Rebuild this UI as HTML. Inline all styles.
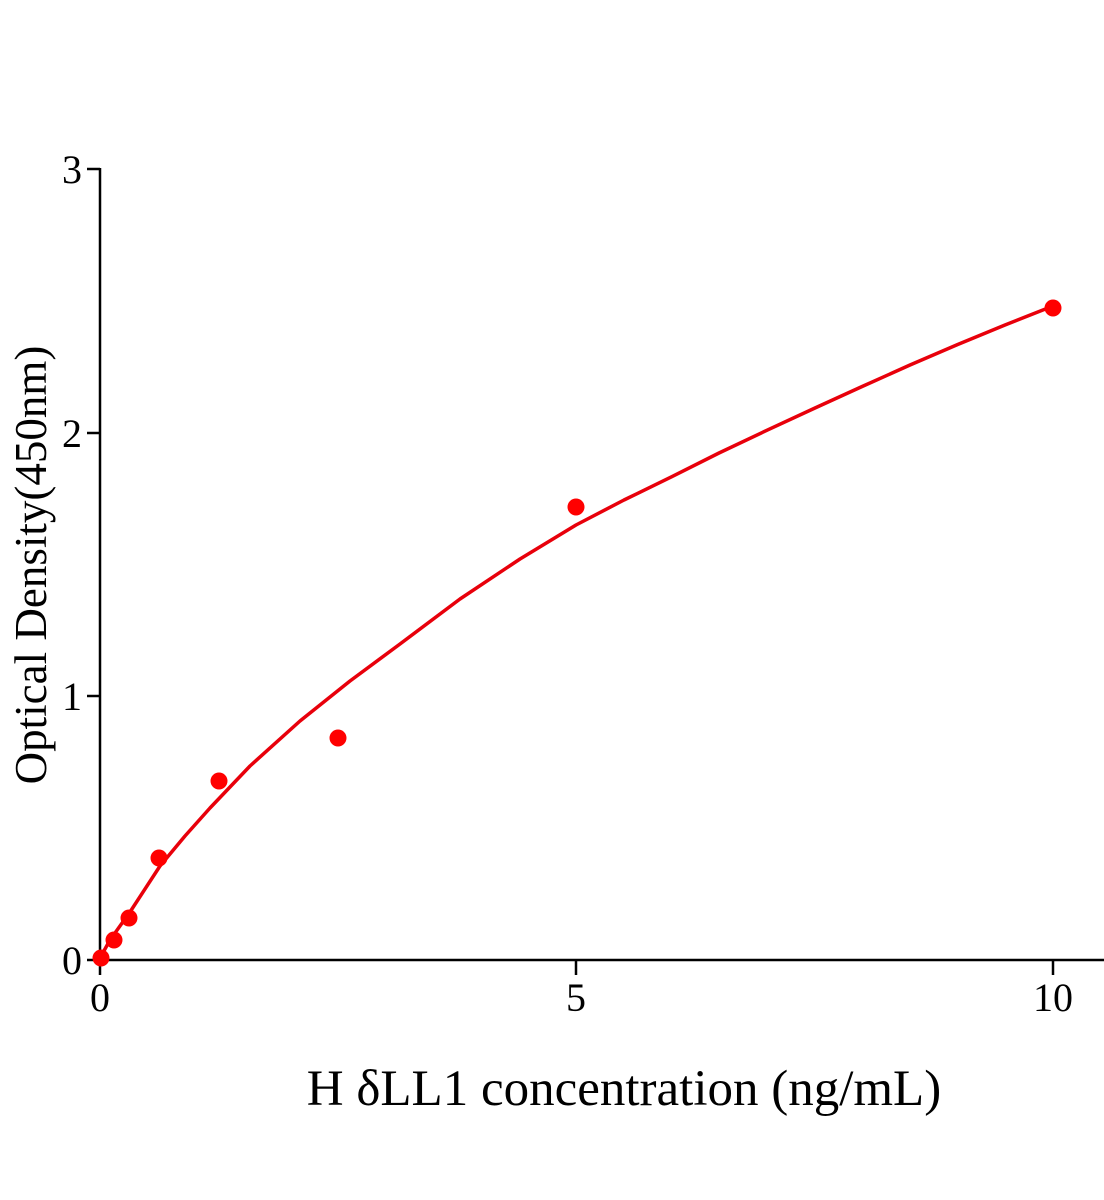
<!DOCTYPE html>
<html><head><style>
html,body{margin:0;padding:0;background:#fff;}
svg{display:block;font-family:"Liberation Serif",serif;}
</style></head><body>
<svg width="1104" height="1200" viewBox="0 0 1104 1200">
<g stroke="#000" stroke-width="2.5" fill="none">
<line x1="100" y1="168" x2="100" y2="975"/>
<line x1="87" y1="960" x2="1104" y2="960"/>
<line x1="87" y1="169" x2="100" y2="169"/>
<line x1="87" y1="433" x2="100" y2="433"/>
<line x1="87" y1="696" x2="100" y2="696"/>
<line x1="576" y1="960" x2="576" y2="975"/>
<line x1="1053" y1="960" x2="1053" y2="975"/>
</g>
<g font-size="40" text-anchor="end">
<text x="82" y="183">3</text>
<text x="82" y="447">2</text>
<text x="82" y="710">1</text>
<text x="82" y="974">0</text>
</g>
<g font-size="40" text-anchor="middle">
<text x="100" y="1011">0</text>
<text x="576" y="1011">5</text>
<text x="1053" y="1011">10</text>
</g>
<text x="624" y="1105" font-size="51" text-anchor="middle">H δLL1 concentration (ng/mL)</text>
<text transform="translate(46,565) rotate(-90)" font-size="45" text-anchor="middle">Optical Density(450nm)</text>
<polyline fill="none" stroke="#e8000b" stroke-width="3.5" stroke-linejoin="round" points="100,958 110,940 130,912 160,866 185,836 210,808 250,766 300,721 350,681 400,644 460,599 520,559 576,525 624,500 671.8,476.7 719,453 767.1,430.2 815,408 862.4,386.4 910,365 957.7,344.5 1005,325 1053,306"/>
<g fill="#f00">
<circle cx="101" cy="958" r="8.5"/>
<circle cx="114" cy="940" r="8.5"/>
<circle cx="129" cy="918" r="8.5"/>
<circle cx="159" cy="858" r="8.5"/>
<circle cx="219" cy="781" r="8.5"/>
<circle cx="338" cy="738" r="8.5"/>
<circle cx="576" cy="507" r="8.5"/>
<circle cx="1053" cy="308" r="8.5"/>
</g>
</svg>
</body></html>
